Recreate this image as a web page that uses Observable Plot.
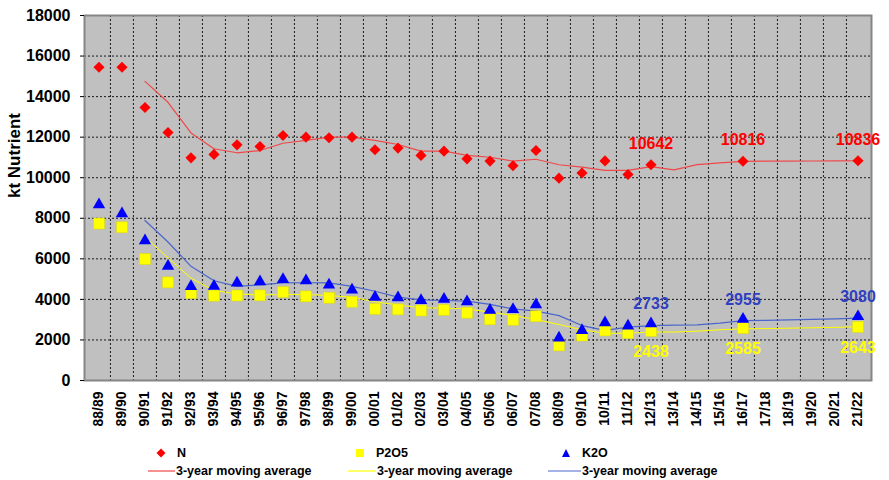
<!DOCTYPE html>
<html><head><meta charset="utf-8">
<script src="https://cdn.jsdelivr.net/npm/d3@7"></script>
<script src="https://cdn.jsdelivr.net/npm/@observablehq/plot@0.6"></script>
<style>
body{margin:0;background:#fff;font-family:Arial,"Liberation Sans",sans-serif;}
#wrap{width:889px;}
#legend{position:relative;width:889px;height:40px;font-size:12.5px;font-weight:bold;color:#000;}
#legend .it{position:absolute;display:flex;align-items:center;white-space:nowrap;line-height:14px;}
#legend svg{display:block;}
</style></head><body><div id="wrap"></div>
<script>
const years = ["88/89","89/90","90/91","91/92","92/93","93/94","94/95","95/96","96/97","97/98","98/99","99/00","00/01","01/02","02/03","03/04","04/05","05/06","06/07","07/08","08/09","09/10","10/11","11/12","12/13","13/14","14/15","15/16","16/17","17/18","18/19","19/20","20/21","21/22"];
const nVals = [15450,15450,13460,12230,10980,11150,11620,11540,12080,12000,11970,12000,11380,11460,11100,11310,10930,10820,10590,11340,9980,10230,10830,10160,10642,null,null,null,10816,null,null,null,null,10836];
const pVals = [7740,7560,5990,4840,4310,4180,4190,4200,4360,4150,4080,3880,3530,3510,3450,3480,3340,3020,2990,3170,1730,2220,2470,2340,2438,null,null,null,2585,null,null,null,null,2643];
const kVals = [8600,8150,6820,5560,4570,4580,4740,4800,4910,4850,4640,4390,4040,4010,3880,3940,3810,3390,3430,3670,2030,2400,2775,2620,2733,null,null,null,2955,null,null,null,null,3080];
const nMA = [null,null,14750,13720,12210,11430,11230,11340,11700,11840,12000,12000,11840,11640,11310,11310,11100,11010,10820,10910,10640,10520,10360,10360,10550,10390,10650,10730,10810,10816,10820,10825,10830,10836];
const pMA = [null,null,7070,6050,5045,4440,4270,4220,4240,4240,4190,4110,3880,3730,3580,3570,3530,3370,3205,3010,2760,2500,2330,2330,2390,2390,2430,2500,2550,2560,2580,2600,2620,2650];
const kMA = [null,null,7890,6830,5630,4920,4640,4720,4810,4820,4810,4640,4400,4110,3980,3945,3910,3750,3530,3420,3200,2710,2470,2630,2710,2730,2740,2830,2955,2965,2985,3010,3040,3080];
const yTicks = [0,2000,4000,6000,8000,10000,12000,14000,16000,18000];
const labelYears = ["12/13","16/17","21/22"];
const yTitle = "kt Nutrient";

const rows = years.map((year,i)=>({year,n:nVals[i],p:pVals[i],k:kVals[i],nMA:nMA[i],pMA:pMA[i],kMA:kMA[i]}));
const W=889,H=440,ML=84,MR=18,MT=15,MB=60;
const bw=(W-ML-MR)/years.length;
const lab = rows.filter(d=>labelYears.includes(d.year));
const font = "Arial, Liberation Sans, sans-serif";

const chart = Plot.plot({
  width:W,height:H,marginLeft:ML,marginRight:MR,marginTop:MT,marginBottom:MB,
  style:{fontFamily:font,fontSize:"16px",fontWeight:"bold",color:"#000",background:"#fff",overflow:"visible"},
  x:{type:"band",domain:years,padding:0},
  y:{domain:[0,18000]},
  marks:[
    Plot.frame({fill:"#c0c0c0"}),
    Plot.ruleY(yTicks.filter(v=>v>0&&v<18000),{stroke:"#1a1a1a",strokeDasharray:"2,2"}),
    Plot.ruleX(years.slice(1),{dx:-bw/2,stroke:"#1a1a1a",strokeDasharray:"2,2"}),
    Plot.frame({stroke:"#858585",strokeWidth:2}),
    Plot.axisY({ticks:yTicks,tickSize:4,tickPadding:10,tickFormat:d=>String(d),label:null,fontSize:16}),
    Plot.axisX({tickRotate:-90,tickSize:0,tickPadding:11,label:null,fontSize:14}),
    Plot.text([yTitle],{frameAnchor:"left",dx:-70,rotate:-90,fontSize:17,fontWeight:"bold",fill:"#000"}),
    Plot.line(rows.filter(d=>d.pMA!=null),{x:"year",y:"pMA",stroke:"#ffff00",strokeWidth:1}),
    Plot.line(rows.filter(d=>d.kMA!=null),{x:"year",y:"kMA",stroke:"#4a66cc",strokeWidth:1.2}),
    Plot.line(rows.filter(d=>d.nMA!=null),{x:"year",y:"nMA",stroke:"#f04848",strokeWidth:1.2}),
    Plot.dot(rows.filter(d=>d.n!=null),{x:"year",y:"n",symbol:"diamond2",r:5,fill:"#ff0000"}),
    Plot.dot(rows.filter(d=>d.p!=null),{x:"year",y:"p",symbol:"square",r:6.2,fill:"#ffff00",stroke:"#d8d800",strokeWidth:0.5}),
    Plot.dot(rows.filter(d=>d.k!=null),{x:"year",y:"k",symbol:"triangle",r:4.6,dy:-1.5,fill:"#0000ff"}),
    Plot.text(lab,{x:"year",y:"n",text:d=>String(d.n),dy:-21,fill:"#ff0000",fontSize:16,fontWeight:"bold"}),
    Plot.text(lab,{x:"year",y:"k",text:d=>String(d.k),dy:-21,fill:"#3040c0",fontSize:16,fontWeight:"bold"}),
    Plot.text(lab,{x:"year",y:"p",text:d=>String(d.p),dy:21,fill:"#ffff00",fontSize:16,fontWeight:"bold"})
  ]
});
document.getElementById("wrap").appendChild(chart);

const legend = document.createElement("div");
legend.id="legend";
const items = [
  {x:155,y:6,icon:'<svg width="12" height="12"><path d="M6,1.5L10.5,6L6,10.5L1.5,6Z" fill="#ff0000"/></svg>',text:"N"},
  {x:354,y:6,icon:'<svg width="12" height="12"><rect x="2" y="2" width="8" height="8" fill="#ffff00"/></svg>',text:"P2O5"},
  {x:560,y:6,icon:'<svg width="12" height="12"><path d="M6,2L10,10L2,10Z" fill="#0000ff"/></svg>',text:"K2O"},
  {x:148,y:24,icon:'<svg width="27" height="12"><line x1="0" x2="27" y1="6" y2="6" stroke="#f04848" stroke-width="1.2"/></svg>',text:"3-year moving average"},
  {x:348,y:24,icon:'<svg width="28" height="12"><line x1="0" x2="28" y1="6" y2="6" stroke="#ffff00" stroke-width="1.2"/></svg>',text:"3-year moving average"},
  {x:548,y:24,icon:'<svg width="33" height="12"><line x1="0" x2="33" y1="6" y2="6" stroke="#4a66cc" stroke-width="1.2"/></svg>',text:"3-year moving average"}
];
for(const it of items){
  const d=document.createElement("div");
  d.className="it";
  d.style.left=it.x+"px"; d.style.top=it.y+"px";
  d.innerHTML=it.icon+'<span style="margin-left:'+(it.text==="N"||it.text==="P2O5"||it.text==="K2O"?10:1)+'px">'+it.text+'</span>';
  legend.appendChild(d);
}
document.getElementById("wrap").appendChild(legend);
</script>
</body></html>
